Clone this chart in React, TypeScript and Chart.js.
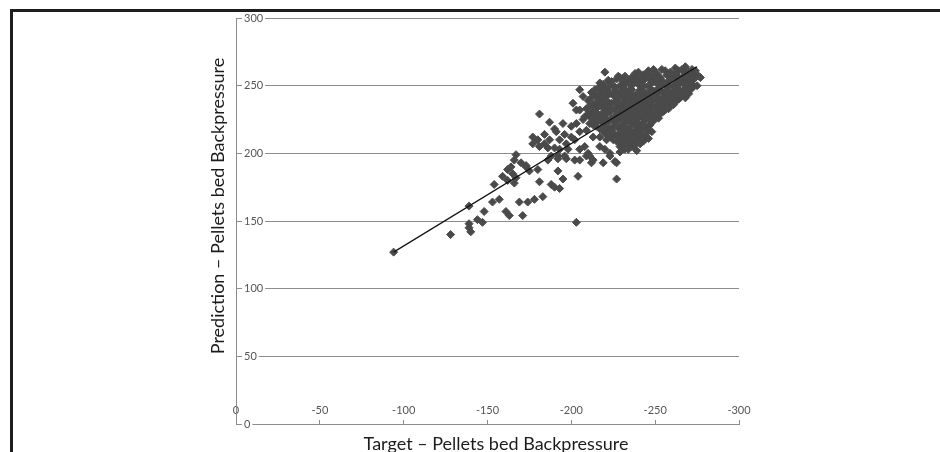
import { useEffect, useRef } from 'react';
import { Chart, registerables } from 'chart.js';

Chart.register(...registerables);

// ---- data ----
const xTickValues = [0, -50, -100, -150, -200, -250, -300];
const yTickValues = [0, 50, 100, 150, 200, 250, 300];
const xAxisTitle = 'Target – Pellets bed Backpressure';
const yAxisTitle = 'Prediction – Pellets bed Backpressure';

// trend line end points: [target, prediction]
const trendTargets = [-94, -275];
const trendPredictions = [127, 264];

// scattered observations [target, prediction]
const sparseObservations: [number, number][] = [
  [-94, 127], [-128, 140], [-139, 161], [-139, 148], [-139, 145], [-140, 142],
  [-144, 151], [-147, 149], [-148, 157], [-154, 177], [-153, 164], [-157, 166],
  [-161, 157], [-163, 154], [-171, 154], [-169, 164], [-174, 164], [-178, 166],
  [-183, 168], [-159, 183], [-162, 180], [-166, 178], [-167, 182], [-165, 185],
  [-167, 199], [-170, 193], [-173, 190], [-175, 187], [-180, 188], [-181, 179],
  [-188, 177], [-190, 175], [-193, 174], [-192, 187], [-195, 181], [-204, 183],
  [-203, 149], [-227, 181], [-181, 229], [-177, 212], [-180, 210], [-184, 214],
  [-187, 223], [-190, 218], [-191, 216], [-195, 222], [-196, 214], [-200, 220],
  [-203, 222], [-205, 216], [-202, 210], [-197, 207], [-193, 203], [-190, 204],
  [-186, 204], [-188, 198], [-192, 198], [-197, 196], [-202, 195], [-205, 203],
  [-208, 205], [-210, 200], [-213, 195], [-217, 205], [-220, 203], [-223, 200],
  [-226, 194], [-229, 205], [-232, 203], [-234, 210], [-230, 211], [-225, 210],
  [-221, 210], [-217, 212], [-213, 212], [-209, 217], [-211, 222], [-207, 225],
  [-203, 232], [-201, 237], [-205, 247], [-213, 244], [-217, 252], [-220, 260],
  [-228, 257], [-207, 242], [-205, 232], [-237, 207], [-241, 212], [-245, 217],
  [-227, 193], [-219, 193], [-212, 193], [-209, 198], [-205, 195], [-211, 198],
  [-223, 198], [-229, 201], [-177, 207], [-181, 205], [-184, 207], [-187, 210],
  [-193, 210], [-198, 203], [-200, 212], [-166, 195], [-173, 191], [-162, 188],
  [-164, 190], [-186, 195], [-192, 196], [-196, 198], [-277, 256],
];

// dense cluster of observations [target, prediction]
const clusterObservations: [number, number][] = [
  [-262, 263], [-268, 264], [-272, 262],
  [-240, 260], [-246, 261], [-251, 259], [-256, 261], [-259, 260], [-264, 261], [-270, 260], [-274, 261],
  [-232, 257], [-236, 256], [-243, 258], [-248, 257], [-253, 256], [-257, 258], [-261, 257], [-266, 256], [-271, 258], [-276, 257],
  [-222, 254], [-227, 255], [-234, 253], [-238, 254], [-244, 255], [-249, 253], [-254, 254], [-259, 255], [-263, 253], [-268, 254], [-273, 255],
  [-219, 251], [-229, 250], [-233, 252], [-240, 251], [-246, 250], [-251, 252], [-256, 251], [-261, 250], [-265, 252], [-270, 251], [-275, 250],
  [-216, 248], [-221, 247], [-226, 249], [-231, 248], [-236, 247], [-242, 249], [-247, 248], [-253, 247], [-258, 249], [-263, 248], [-267, 247], [-272, 248],
  [-212, 245], [-218, 246], [-223, 244], [-229, 245], [-234, 246], [-239, 244], [-244, 245], [-249, 246], [-255, 244], [-260, 245], [-265, 246], [-270, 244],
  [-215, 242], [-220, 241], [-225, 243], [-231, 242], [-237, 241], [-242, 243], [-247, 242], [-252, 241], [-257, 243], [-262, 242], [-268, 241],
  [-210, 239], [-217, 240], [-222, 238], [-227, 239], [-233, 240], [-238, 238], [-244, 239], [-249, 240], [-254, 238], [-259, 239], [-264, 240],
  [-213, 236], [-219, 235], [-224, 237], [-230, 236], [-235, 235], [-241, 237], [-246, 236], [-251, 235], [-256, 237], [-261, 236],
  [-209, 233], [-215, 234], [-221, 232], [-226, 233], [-232, 234], [-237, 232], [-243, 233], [-248, 234], [-253, 232], [-258, 233],
  [-212, 230], [-218, 229], [-223, 231], [-229, 230], [-234, 229], [-240, 231], [-245, 230], [-250, 229], [-255, 231],
  [-208, 227], [-214, 228], [-220, 226], [-226, 227], [-231, 228], [-237, 226], [-242, 227], [-247, 228], [-252, 226],
  [-216, 224], [-222, 223], [-228, 225], [-233, 224], [-239, 223], [-244, 225], [-249, 224],
  [-213, 221], [-219, 222], [-225, 220], [-230, 221], [-236, 222], [-241, 220], [-247, 221],
  [-217, 218], [-222, 217], [-228, 219], [-234, 218], [-239, 217], [-245, 219],
  [-220, 215], [-226, 214], [-231, 216], [-237, 215], [-242, 214], [-248, 216],
  [-224, 212], [-229, 211], [-235, 213], [-240, 212], [-246, 211],
  [-227, 209], [-233, 208], [-238, 210], [-243, 209],
  [-230, 206], [-236, 205], [-241, 207],
  [-234, 203], [-239, 202],
];

// further observations inside the dense cluster [target, prediction]
const clusterFillObservations: [number, number][] = [
  [-249, 262], [-254, 262], [-266, 262],
  [-238, 259], [-245, 259], [-250, 259], [-262, 259], [-268, 259], [-273, 259],
  [-229, 256], [-240, 256], [-246, 256], [-251, 256], [-264, 256], [-269, 256], [-274, 256],
  [-224, 253], [-231, 253], [-236, 253], [-242, 253], [-248, 253], [-258, 253], [-266, 253], [-271, 253],
  [-218, 250], [-223, 250], [-236, 250], [-243, 250], [-253, 250], [-258, 250], [-263, 250], [-268, 250], [-273, 250],
  [-214, 247], [-220, 247], [-226, 247], [-232, 247], [-241, 247], [-251, 247], [-257, 247], [-262, 247], [-270, 247],
  [-217, 244], [-222, 244], [-227, 244], [-233, 244], [-236, 244], [-246, 244], [-251, 244], [-258, 244], [-263, 244], [-267, 244],
  [-212, 241], [-219, 241], [-228, 241], [-234, 241], [-240, 241], [-245, 241], [-250, 241], [-255, 241], [-260, 241], [-265, 241],
  [-215, 238], [-220, 238], [-226, 238], [-231, 238], [-236, 238], [-242, 238], [-247, 238], [-252, 238], [-257, 238], [-262, 238],
  [-211, 235], [-217, 235], [-222, 235], [-228, 235], [-233, 235], [-239, 235], [-244, 235], [-249, 235], [-254, 235], [-259, 235],
  [-214, 232], [-220, 232], [-224, 232], [-230, 232], [-235, 232], [-241, 232], [-246, 232], [-251, 232], [-256, 232],
  [-210, 229], [-216, 229], [-221, 229], [-227, 229], [-232, 229], [-238, 229], [-243, 229], [-248, 229], [-253, 229],
  [-212, 226], [-218, 226], [-224, 226], [-229, 226], [-235, 226], [-240, 226], [-245, 226], [-250, 226],
  [-214, 223], [-220, 223], [-226, 223], [-232, 223], [-237, 223], [-243, 223], [-248, 223],
  [-215, 220], [-221, 220], [-227, 220], [-232, 220], [-238, 220], [-243, 220],
  [-219, 217], [-224, 217], [-230, 217], [-235, 217], [-241, 217], [-246, 217],
  [-222, 214], [-228, 214], [-233, 214], [-239, 214], [-244, 214],
  [-226, 211], [-231, 211], [-237, 211], [-242, 211],
  [-229, 208], [-234, 208], [-239, 208],
  [-232, 205], [-237, 205],
];

const FONT = 'Lato, "Open Sans", "DejaVu Sans", sans-serif';

const axisTitlesPlugin = {
  id: 'axisTitles',
  afterDraw(chart: any) {
    const { ctx, chartArea } = chart;
    ctx.save();
    ctx.fillStyle = '#1c1c1c';
    ctx.font = `18px ${FONT}`;
    ctx.textAlign = 'center';
    ctx.textBaseline = 'middle';
    ctx.fillText(xAxisTitle, chartArea.left + 260, chartArea.bottom + 20);
    ctx.translate(chartArea.left - 18, chartArea.top + 188);
    ctx.rotate(-Math.PI / 2);
    ctx.fillText(yAxisTitle, 0, 0);
    ctx.restore();
  },
};

export default function App() {
  const canvasRef = useRef<HTMLCanvasElement | null>(null);

  useEffect(() => {
    const canvas = canvasRef.current;
    if (!canvas) return;
    const points = [...sparseObservations, ...clusterObservations, ...clusterFillObservations].map(
      ([x, y]) => ({ x, y })
    );
    const trend = trendTargets.map((x, i) => ({ x, y: trendPredictions[i] }));

    const chart = new Chart(canvas, {
      type: 'scatter',
      data: {
        datasets: [
          {
            label: 'Trend',
            data: trend,
            showLine: true,
            borderColor: '#111111',
            borderWidth: 1.2,
            pointRadius: 0,
            pointHoverRadius: 0,
          },
          {
            label: 'Observations',
            data: points,
            pointStyle: 'rectRot',
            pointRadius: 4,
            pointBackgroundColor: '#4a4a4a',
            pointBorderColor: '#4a4a4a',
            pointBorderWidth: 1,
            showLine: false,
          },
        ],
      },
      options: {
        animation: false,
        responsive: true,
        maintainAspectRatio: false,
        layout: { padding: { left: 0, right: 201, top: 18, bottom: 0 } },
        plugins: { legend: { display: false }, tooltip: { enabled: false }, title: { display: false } },
        scales: {
          x: {
            type: 'linear',
            position: 'bottom',
            min: -300,
            max: 0,
            reverse: true,
            afterBuildTicks: (s: any) => {
              s.ticks = xTickValues.map((v) => ({ value: v }));
            },
            afterFit: (s: any) => {
              s.height = 28;
            },
            grid: { drawOnChartArea: false, drawTicks: true, tickLength: -4, color: '#8c8c8c' },
            border: { display: true, color: '#8c8c8c', width: 1 },
            ticks: {
              mirror: true,
              padding: 7,
              autoSkip: false,
              maxRotation: 0,
              color: '#555555',
              font: { family: FONT, size: 11 },
              callback: (v: any) => String(v),
            },
          },
          y: {
            type: 'linear',
            position: 'left',
            min: 0,
            max: 300,
            afterBuildTicks: (s: any) => {
              s.ticks = yTickValues.map((v) => ({ value: v }));
            },
            afterFit: (s: any) => {
              s.width = 236;
            },
            grid: { color: '#8c8c8c', drawTicks: false },
            border: { display: true, color: '#8c8c8c', width: 1 },
            ticks: {
              mirror: true,
              padding: 8,
              showLabelBackdrop: true,
              backdropColor: '#ffffff',
              backdropPadding: { top: 0, bottom: 0, left: 2, right: 2 },
              color: '#555555',
              font: { family: FONT, size: 11 },
              callback: (v: any) => String(v),
            },
          },
        },
      },
      plugins: [axisTitlesPlugin],
    });
    return () => chart.destroy();
  }, []);

  return (
    <div style={{ position: 'fixed', left: 0, top: 0, width: 940, height: 452, background: '#ffffff' }}>
      <canvas ref={canvasRef} />
      <div
        style={{
          position: 'absolute',
          left: 10,
          top: 9,
          right: 0,
          bottom: 0,
          borderTop: '3px solid #1e1e1e',
          borderLeft: '3px solid #1e1e1e',
          pointerEvents: 'none',
        }}
      />
    </div>
  );
}
